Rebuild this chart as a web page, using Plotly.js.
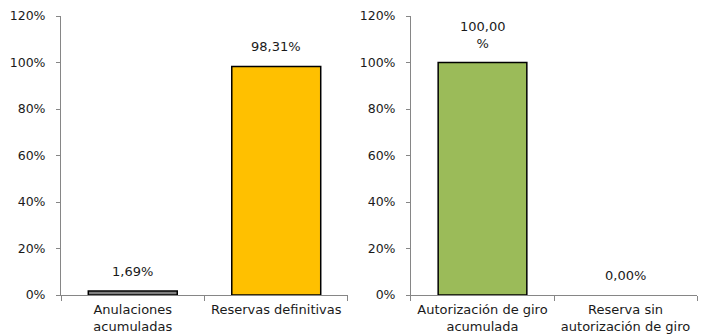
<!DOCTYPE html>
<html><head><meta charset="utf-8">
<script src="https://cdn.plot.ly/plotly-3.0.1.min.js"></script>
<style>html,body{margin:0;padding:0;background:#fff}#c{width:708px;height:335px}</style>
</head><body><div id="c"></div>
<script>
const catsLeft = ["Anulaciones<br>acumuladas", "Reservas definitivas"];
const valsLeft = [1.69, 98.31];
const labelsLeft = ["1,69%", "98,31%"];
const colorsLeft = ["#808080", "#FFC000"];

const catsRight = ["Autorización de giro<br>acumulada", "Reserva sin<br>autorización de giro"];
const valsRight = [100.00, 0.00];
const labelsRight = ["100,00<br>%", "0,00%"];
const colorsRight = ["#9BBB59", "#9BBB59"];

const yTickVals = [0, 20, 40, 60, 80, 100, 120];
const yTickText = ["0%", "20%", "40%", "60%", "80%", "100%", "120%"];

const FONT = "'DejaVu Sans', sans-serif";
const lw = v => v > 0 ? 1.5 : 0;
const traces = [
  {type: "bar", x: catsLeft, y: valsLeft, xaxis: "x", yaxis: "y",
   marker: {color: colorsLeft, line: {color: "#000", width: valsLeft.map(lw)}}, width: 0.62, hoverinfo: "none"},
  {type: "bar", x: catsRight, y: valsRight, xaxis: "x2", yaxis: "y2",
   marker: {color: colorsRight, line: {color: "#000", width: valsRight.map(lw)}}, width: 0.62, hoverinfo: "none"}
];

const annotations = [];
catsLeft.forEach((c, i) => annotations.push({x: c, y: valsLeft[i], xref: "x", yref: "y", text: labelsLeft[i],
  showarrow: false, yanchor: "bottom", yshift: 10, font: {family: FONT, size: 13, color: "#1a1a1a"}}));
catsRight.forEach((c, i) => annotations.push({x: c, y: valsRight[i], xref: "x2", yref: "y2", text: labelsRight[i],
  showarrow: false, yanchor: "bottom", yshift: 10, font: {family: FONT, size: 13, color: "#1a1a1a"}}));

const yax = {range: [0, 120], tickvals: yTickVals, ticktext: yTickText, showgrid: false, zeroline: false,
  showline: true, linecolor: "#868686", linewidth: 1, ticks: "outside", ticklen: 4, tickcolor: "#868686",
  ticklabelstandoff: 8,
  tickfont: {family: FONT, size: 12.5, color: "#1a1a1a"}, fixedrange: true};
const xax = {showgrid: false, zeroline: false, showline: true, linecolor: "#868686", linewidth: 1,
  ticks: "outside", tickson: "boundaries", ticklen: 5, tickcolor: "#868686", ticklabelstandoff: 2,
  tickfont: {family: FONT, size: 13, color: "#1a1a1a"}, fixedrange: true};

const layout = {
  width: 708, height: 335, margin: {l: 0, r: 0, t: 0, b: 0},
  paper_bgcolor: "#fff", plot_bgcolor: "#fff", showlegend: false,
  xaxis: Object.assign({}, xax, {domain: [0.0862, 0.4915], anchor: "y"}),
  yaxis: Object.assign({}, yax, {domain: [0.1194, 0.952], anchor: "x"}),
  xaxis2: Object.assign({}, xax, {domain: [0.5805, 0.9845], anchor: "y2"}),
  yaxis2: Object.assign({}, yax, {domain: [0.1194, 0.952], anchor: "x2"}),
  annotations: annotations,
  bargap: 0.38
};
Plotly.newPlot("c", traces, layout, {displayModeBar: false, staticPlot: true});
</script>
</body></html>
